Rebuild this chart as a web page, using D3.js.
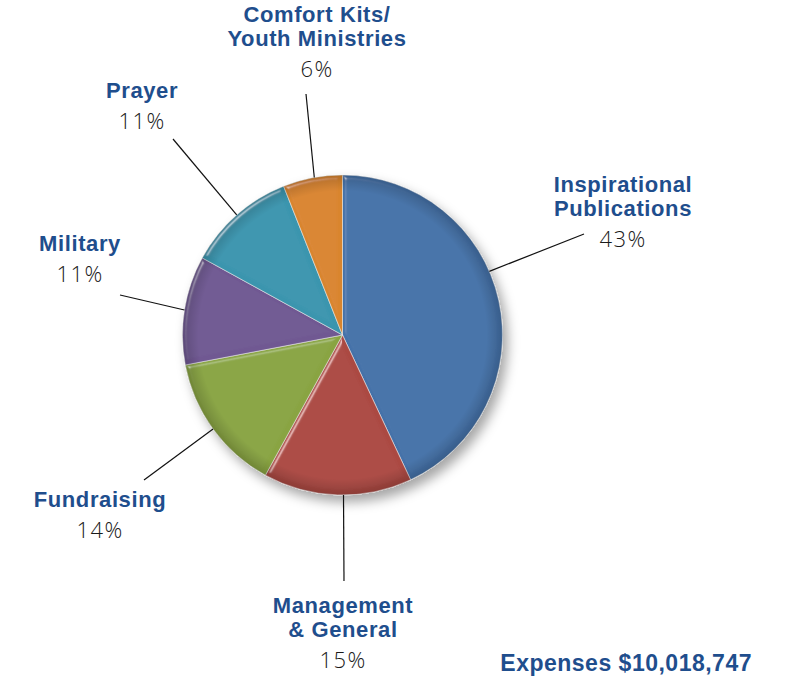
<!DOCTYPE html>
<html lang="en">
<head>
<meta charset="utf-8">
<script src="https://d3js.org/d3.v7.min.js"></script>
<style>
  body { margin: 0; background: #fff; }
  svg text { font-family: "Liberation Sans", Arial, sans-serif; }
  .name { font-weight: bold; fill: #1f4e8d; font-size: 22px; letter-spacing: 0.6px; }
  .pct { font-family: "Open Sans", Lato, sans-serif !important; font-weight: 300; fill: #1a1a1a; font-size: 22px; letter-spacing: 1.4px; }
  .total { font-weight: bold; fill: #1f4e8d; font-size: 23px; letter-spacing: 0.5px; }
</style>
</head>
<body>
<script>
// expense split, clockwise from 12 o'clock
var categories = ["Inspirational Publications", "Management & General", "Fundraising",
                  "Military", "Prayer", "Comfort Kits/ Youth Ministries"];
var labelLines = [["Inspirational", "Publications"], ["Management", "& General"], ["Fundraising"],
                  ["Military"], ["Prayer"], ["Comfort Kits/", "Youth Ministries"]];
var shares = [43, 15, 14, 11, 11, 6];
var pctLabels = ["43%", "15%", "14%", "11%", "11%", "6%"];
var totalLabel = "Expenses $10,018,747";

var colors = ["#4472a9", "#ab4842", "#89a443", "#6f5892", "#3b95ae", "#d9852f"];

// layout: label anchor (first baseline), outer end of leader, where on slice the leader touches
var labelPos = [[623, 192], [343, 613], [100, 507], [80, 251], [142, 98], [317, 22]];
var leaderEnd = [[584, 234], [344, 581], [144, 480], [120, 295], [173, 139], [306, 94]];
var leaderAt = [0.43, 0.46, 0.5, 0.5, 0.5, 0.53];

var width = 799, height = 680;
var cx = 342.5, cy = 335, radius = 160;

var svg = d3.select("body").append("svg")
    .attr("width", width)
    .attr("height", height);

var defs = svg.append("defs");

var shadow = defs.append("filter").attr("id", "shadow")
    .attr("x", "-20%").attr("y", "-20%").attr("width", "140%").attr("height", "140%");
shadow.append("feDropShadow")
    .attr("dx", 5).attr("dy", 7).attr("stdDeviation", 6)
    .attr("flood-color", "#000").attr("flood-opacity", 0.35);

var bevel = defs.append("filter").attr("id", "bevel");
bevel.append("feGaussianBlur").attr("in", "SourceAlpha").attr("stdDeviation", 2).attr("result", "blur");
var spec = bevel.append("feSpecularLighting")
    .attr("in", "blur").attr("surfaceScale", 3).attr("specularConstant", 0.5)
    .attr("specularExponent", 45).attr("lighting-color", "#fff").attr("result", "spec");
spec.append("feDistantLight").attr("azimuth", 225).attr("elevation", 40);
bevel.append("feComposite").attr("in", "spec").attr("in2", "SourceAlpha")
    .attr("operator", "in").attr("result", "specIn");
bevel.append("feComposite").attr("in", "SourceGraphic").attr("in2", "specIn")
    .attr("operator", "arithmetic").attr("k1", 0).attr("k2", 1).attr("k3", 1).attr("k4", 0);

// darker rim
var rim = defs.append("radialGradient").attr("id", "rim")
    .attr("gradientUnits", "userSpaceOnUse")
    .attr("cx", 0).attr("cy", 0).attr("r", radius);
rim.append("stop").attr("offset", "0.9").attr("stop-color", "#000").attr("stop-opacity", 0);
rim.append("stop").attr("offset", "1").attr("stop-color", "#000").attr("stop-opacity", 0.18);

var pie = d3.pie().sort(null).value(function (d) { return d; });
var arcs = pie(shares);
var arc = d3.arc().innerRadius(0).outerRadius(radius);

var g = svg.append("g").attr("transform", "translate(" + cx + "," + cy + ")");

var slices = g.append("g").attr("filter", "url(#shadow)");
slices.selectAll("path.slice")
    .data(arcs)
    .enter()
    .append("path")
    .attr("class", "slice")
    .attr("d", arc)
    .attr("fill", function (d, i) { return colors[i]; })
    .attr("stroke", "#e8e8e8")
    .attr("stroke-width", 0.6)
    .attr("filter", "url(#bevel)");

g.append("circle").attr("r", radius).attr("fill", "url(#rim)");

// leader lines
svg.append("g").selectAll("line")
    .data(arcs)
    .enter()
    .append("line")
    .attr("x1", function (d, i) {
        var a = d.startAngle + (d.endAngle - d.startAngle) * leaderAt[i];
        return cx + radius * Math.sin(a);
    })
    .attr("y1", function (d, i) {
        var a = d.startAngle + (d.endAngle - d.startAngle) * leaderAt[i];
        return cy - radius * Math.cos(a);
    })
    .attr("x2", function (d, i) { return leaderEnd[i][0]; })
    .attr("y2", function (d, i) { return leaderEnd[i][1]; })
    .attr("stroke", "#111")
    .attr("stroke-width", 1.2);

// labels
var labels = svg.append("g").selectAll("g")
    .data(categories)
    .enter()
    .append("g")
    .attr("transform", function (d, i) { return "translate(" + labelPos[i][0] + "," + labelPos[i][1] + ")"; });

labels.each(function (d, i) {
    var sel = d3.select(this);
    labelLines[i].forEach(function (t, k) {
        sel.append("text").attr("class", "name")
            .attr("text-anchor", "middle")
            .attr("y", k * 24)
            .text(t);
    });
    sel.append("text").attr("class", "pct")
        .attr("text-anchor", "middle")
        .attr("y", (labelLines[i].length - 1) * 24 + 31)
        .text(pctLabels[i]);
});

svg.append("text")
    .attr("class", "total")
    .attr("x", 752)
    .attr("y", 671)
    .attr("text-anchor", "end")
    .text(totalLabel);
</script>
</body>
</html>
